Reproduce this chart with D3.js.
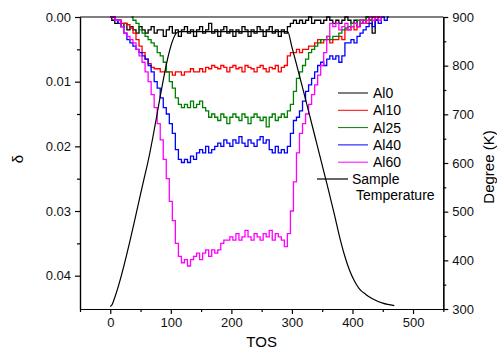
<!DOCTYPE html>
<html>
<head>
<meta charset="utf-8">
<script src="https://cdn.jsdelivr.net/npm/d3@7"></script>
<style>
  html, body { margin: 0; padding: 0; background: #fff; }
  svg { display: block; font-family: "Liberation Sans", Arial, sans-serif; }
</style>
</head>
<body>
<svg id="chart" width="497" height="349"></svg>
<script>
// Data: delta vs TOS, sampled every 5 units (null = no data)
const tos = [
  0, 5, 10, 15, 20, 25, 30, 35, 40, 45,
  50, 55, 60, 65, 70, 75, 80, 85, 90, 95,
  100, 105, 110, 115, 120, 125, 130, 135, 140, 145,
  150, 155, 160, 165, 170, 175, 180, 185, 190, 195,
  200, 205, 210, 215, 220, 225, 230, 235, 240, 245,
  250, 255, 260, 265, 270, 275, 280, 285, 290, 295,
  300, 305, 310, 315, 320, 325, 330, 335, 340, 345,
  350, 355, 360, 365, 370, 375, 380, 385, 390, 395,
  400, 405, 410, 415, 420, 425, 430, 435, 440, 445,
  450, 455, 460
]
const al0 = [
  0, .0005, .001, .0005, .0015, .001, .002, .0015, .002, .0025,
  .0015, .002, .0025, .002, .0015, .0025, .002, .002, .003, .002,
  .0015, .0025, .002, .003, .002, .0015, .0025, .002, .003, .002,
  .0015, .0025, .002, .001, .0025, .002, .003, .002, .0015, .0025,
  .002, .003, .002, .0025, .0015, .002, .003, .002, .0025, .0015,
  .002, .003, .002, .0015, .0025, .002, .003, .002, .0025, .0015,
  .001, .0005, .001, .0005, .001, .0005, 0, .001, .0005, .0005,
  .001, .0005, 0, .0005, .001, .0005, .001, .0005, 0, .0005,
  .001, .0005, .0015, .0005, .001, 0, .0005, .0025, .0005, 0,
  null, null, null
]
const al10 = [
  0, 0, .0005, .0005, .001, .001, .0012, .0017, .0025, .0035,
  .0045, .0055, .0065, .0072, .0078, .008, .008, .0085, .0085, .0085,
  .0085, .009, .0085, .0085, .009, .0085, .0085, .008, .0085, .0085,
  .008, .0085, .0078, .008, .0075, .0078, .008, .0075, .0078, .0085,
  .0078, .0075, .008, .0078, .0085, .0075, .0078, .008, .0085, .0078,
  .0075, .008, .0085, .0078, .008, .0075, .0085, .0078, .0075, .006,
  .0055, .0055, .005, .0055, .005, .005, .0045, .0045, .004, .0035,
  .004, .0035, .0035, .004, .0035, .0035, .003, .0035, .002, .002,
  .0015, .002, .0015, .001, .0005, .001, .0005, 0, .0005, 0,
  null, null, null
]
const al25 = [
  null, null, null, null, null, null, null, 0, .0005, .001,
  .002, .0025, .003, .0035, .004, .0045, .0055, .006, .007, .0085,
  .01, .011, .0125, .0135, .014, .0135, .014, .013, .014, .0135,
  .013, .014, .0145, .0155, .015, .0155, .016, .015, .0155, .0165,
  .0155, .015, .0155, .016, .015, .0155, .0165, .0155, .015, .0155,
  .016, .0155, .017, .0155, .015, .016, .0155, .015, .0155, .0145,
  .0135, .0115, .0095, .0085, .0075, .0065, .0055, .005, .0045, .004,
  .0035, .0035, .003, .0035, .003, .003, .0025, .002, .0017, .0015,
  .001, .001, .0005, .001, .0005, 0, .0005, 0, null, null,
  null, null, null
]
const al40 = [
  0, 0, .0005, .001, .0015, .0025, .0035, .004, .0045, .005,
  .0055, .006, .0065, .0075, .0085, .01, .011, .0125, .014, .015,
  .0165, .018, .0205, .022, .0225, .022, .0225, .0215, .022, .021,
  .0205, .021, .02, .021, .0205, .02, .0195, .02, .019, .0195,
  .02, .019, .0195, .0185, .0195, .02, .019, .0195, .02, .019,
  .0185, .0195, .019, .0205, .021, .02, .021, .0205, .021, .02,
  .018, .016, .0155, .0145, .013, .0115, .0105, .0095, .0085, .0075,
  .007, .0075, .0065, .006, .0065, .006, .007, .006, .004, .004,
  .0035, .004, .003, .0025, .002, .0015, .001, .0015, .0005, .001,
  0, .0005, 0
]
const al60 = [
  0, 0, .0005, .0005, .0015, .0025, .003, .0035, .004, .005,
  .006, .007, .0085, .01, .012, .014, .0165, .019, .022, .025,
  .0285, .0315, .035, .037, .038, .0375, .0385, .0375, .037, .0365,
  .0375, .0365, .036, .037, .036, .0365, .036, .035, .0345, .0345,
  .034, .0345, .0335, .0345, .034, .033, .034, .0345, .0335, .034,
  .0345, .0335, .034, .033, .0345, .0335, .034, .0345, .0355, .0335,
  .03, .0255, .021, .018, .0165, .015, .0135, .012, .0105, .009,
  .0075, .0055, .003, .001, .0015, .001, .002, .0015, .001, .002,
  .0015, .001, .0015, .0005, .001, .0005, 0, .0005, 0, .0005,
  0, null, null
]
const seriesNames = ["Al0", "Al10", "Al25", "Al40", "Al60"]
const seriesValues = [al0, al10, al25, al40, al60]
const seriesColors = ["#000000", "#ff0000", "#008000", "#0000ff", "#ff00ff"]

// Sample temperature (right axis)
const tempTos = [0, 3, 7, 60, 113, 293, 300, 340, 356, 370, 378, 387, 395, 403, 411, 422, 433, 450, 469]
const tempK = [305, 309, 322, 590, 870, 870, 838, 645, 566, 495, 452, 410, 380, 358, 342, 330, 321, 312, 307]

// Tick labels
const xTicks = [0, 100, 200, 300, 400, 500]
const xMinor = [-50, 50, 150, 250, 350, 450, 550]
const yTicks = [0, 0.01, 0.02, 0.03, 0.04]
const yMinor = [0.005, 0.015, 0.025, 0.035]
const kTicks = [300, 400, 500, 600, 700, 800, 900]
const kMinor = [350, 450, 550, 650, 750, 850]

// Layout
const plot = { left: 80, right: 443.3, top: 17, bottom: 309 }
const svg = d3.select("#chart")

// Scales
const x = d3.scaleLinear().domain([-50, 550]).range([plot.left, plot.right])
const y = d3.scaleLinear().domain([0, 0.04515]).range([plot.top, plot.bottom])
const yK = d3.scaleLinear().domain([300, 900]).range([plot.bottom, plot.top])

// Render data series
const line = d3.line()
  .defined(d => d[1] !== null)
  .x(d => x(d[0]))
  .y(d => y(d[1]))
  .curve(d3.curveStep)

svg.append("g")
  .attr("fill", "none")
  .attr("stroke-width", 1.3)
  .selectAll("path")
  .data(seriesValues)
  .join("path")
  .attr("stroke", (_, i) => seriesColors[i])
  .attr("d", vals => line(tos.map((t, j) => [t, vals[j]])))

// Render temperature curve
svg.append("path")
  .datum(tempTos.map((t, i) => [t, tempK[i]]))
  .attr("fill", "none")
  .attr("stroke", "#000")
  .attr("stroke-width", 1.2)
  .attr("d", d3.line().x(d => x(d[0])).y(d => yK(d[1])).curve(d3.curveMonotoneX))

// Axes
function styleAxis(g) {
  g.select(".domain").attr("stroke", "#000").attr("stroke-width", 1.2)
  g.selectAll(".tick line").attr("stroke", "#000").attr("stroke-width", 1.2)
  g.selectAll(".tick text").attr("fill", "#111").attr("font-size", "13px").attr("font-family", "Liberation Sans, Arial, sans-serif")
}

svg.append("g")
  .attr("transform", `translate(${plot.left},0)`)
  .call(d3.axisLeft(y).tickValues(yTicks).tickFormat(d3.format(".2f")).tickSize(5).tickSizeOuter(0).tickPadding(4))
  .call(styleAxis)
svg.append("g")
  .attr("transform", `translate(${plot.left},0)`)
  .call(d3.axisLeft(y).tickValues(yMinor).tickFormat("").tickSize(3).tickSizeOuter(0))
  .call(styleAxis)

svg.append("g")
  .attr("transform", `translate(0,${plot.bottom})`)
  .call(d3.axisBottom(x).tickValues(xTicks).tickSize(5).tickSizeOuter(0).tickPadding(4))
  .call(styleAxis)
svg.append("g")
  .attr("transform", `translate(0,${plot.bottom})`)
  .call(d3.axisBottom(x).tickValues(xMinor).tickFormat("").tickSize(3).tickSizeOuter(0))
  .call(styleAxis)

svg.append("g")
  .attr("transform", `translate(${plot.right},0)`)
  .call(d3.axisRight(yK).tickValues(kTicks).tickSize(5).tickSizeOuter(0).tickPadding(4))
  .call(styleAxis)
svg.append("g")
  .attr("transform", `translate(${plot.right},0)`)
  .call(d3.axisRight(yK).tickValues(kMinor).tickFormat("").tickSize(3).tickSizeOuter(0))
  .call(styleAxis)

// Top frame
svg.append("line")
  .attr("x1", plot.left).attr("x2", plot.right)
  .attr("y1", plot.top).attr("y2", plot.top)
  .attr("stroke", "#000").attr("stroke-width", 1.2)

// Axis titles
svg.append("text")
  .attr("transform", `translate(23,159) rotate(-90)`)
  .attr("text-anchor", "middle")
  .attr("font-size", "15px")
  .text("δ")
svg.append("text")
  .attr("transform", `translate(494,167) rotate(-90)`)
  .attr("text-anchor", "middle")
  .attr("font-size", "15px")
  .text("Degree (K)")
svg.append("text")
  .attr("x", (plot.left + plot.right) / 2)
  .attr("y", 347)
  .attr("text-anchor", "middle")
  .attr("font-size", "15px")
  .text("TOS")

// Legend
const legend = svg.append("g").attr("font-size", "14px")
seriesNames.forEach((name, i) => {
  const ly = 93 + i * 17.3
  legend.append("line")
    .attr("x1", 338).attr("x2", 368)
    .attr("y1", ly).attr("y2", ly)
    .attr("stroke", seriesColors[i]).attr("stroke-width", 1)
  legend.append("text")
    .attr("x", 373).attr("y", ly + 5)
    .text(name)
})
legend.append("line")
  .attr("x1", 317).attr("x2", 348)
  .attr("y1", 179).attr("y2", 179)
  .attr("stroke", "#000").attr("stroke-width", 1.2)
legend.append("text").attr("x", 352).attr("y", 184).text("Sample")
legend.append("text").attr("x", 356).attr("y", 200).text("Temperature")
</script>
</body>
</html>
